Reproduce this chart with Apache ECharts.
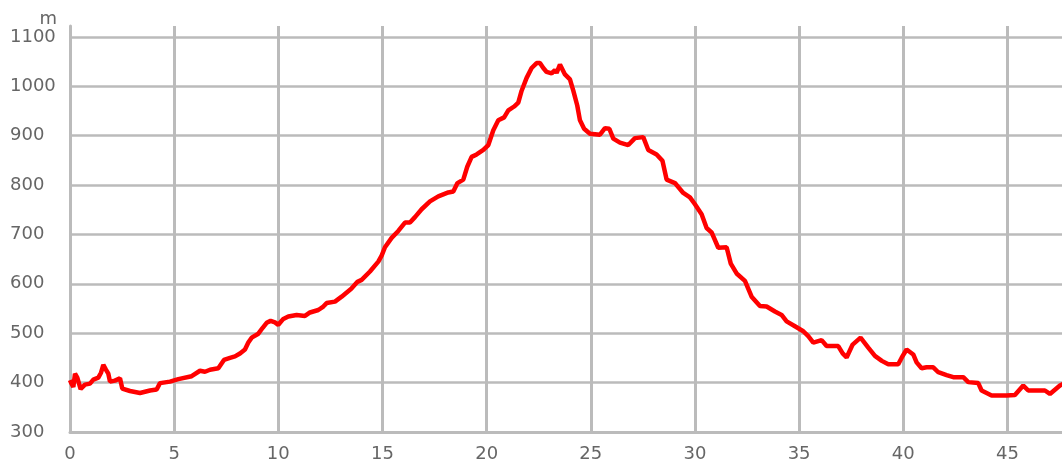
<!DOCTYPE html>
<html>
<head>
<meta charset="utf-8">
<script src="https://cdn.jsdelivr.net/npm/echarts@6/dist/echarts.min.js"></script>
<style>
  html, body { margin: 0; padding: 0; background: #fff; overflow: hidden; }
  #chart { width: 1062px; height: 463px; }
</style>
</head>
<body>
<div id="chart"></div>
<script>
// distance along the route (km) and elevation (m)
const distanceKm = [
  0, 0.05, 0.16, 0.24, 0.35, 0.51, 0.72, 0.96, 1.12, 1.36, 1.49, 1.6, 1.73, 1.84, 1.92,
  2.16, 2.4, 2.51, 2.88, 3.36, 3.84, 4.16, 4.32, 4.8, 5.2, 5.84, 6.24, 6.48, 6.72, 7.12,
  7.39, 7.68, 7.92, 8.16, 8.4, 8.56, 8.72, 9.04, 9.25, 9.44, 9.63, 9.84, 10.0, 10.24, 10.48,
  10.88, 11.28, 11.52, 11.92, 12.16, 12.32, 12.72, 13.04, 13.5, 13.8, 14.0, 14.4, 14.8, 14.96,
  15.12, 15.44, 15.76, 16.08, 16.32, 16.56, 16.88, 17.28, 17.68, 18.16, 18.4, 18.6, 18.88, 19.07,
  19.28, 19.52, 19.84, 20.08, 20.32, 20.56, 20.84, 21.04, 21.32, 21.52, 21.68, 21.92, 22.16, 22.4,
  22.56, 22.72, 22.88, 23.12, 23.28, 23.36, 23.52, 23.76, 24.0, 24.16, 24.35, 24.48, 24.68, 24.96,
  25.44, 25.68, 25.89, 26.08, 26.4, 26.8, 27.12, 27.52, 27.76, 28.16, 28.44, 28.64, 29.04, 29.44,
  29.76, 30.0, 30.32, 30.56, 30.8, 31.12, 31.52, 31.72, 32.0, 32.4, 32.72, 33.12, 33.44, 33.84,
  34.16, 34.4, 34.8, 35.2, 35.44, 35.68, 36.08, 36.32, 36.88, 37.09, 37.28, 37.57, 37.95, 38.32,
  38.64, 38.97, 39.28, 39.76, 39.93, 40.16, 40.48, 40.64, 40.88, 41.12, 41.44, 41.68, 42.08, 42.4,
  42.88, 43.12, 43.6, 43.76, 44.24, 44.96, 45.36, 45.76, 46.0, 46.8, 47.04, 47.52, 47.7
];
const elevationM = [
  405, 400, 391, 418, 410, 387, 396, 398, 406, 410, 420, 436, 426, 418, 402,
  404, 409, 388, 383, 379, 384, 386, 399, 402, 407, 413, 424, 422, 426, 429,
  446, 450, 453, 459, 467, 481, 491, 499, 511, 521, 525, 522, 517, 529, 534,
  537, 535, 542, 547, 554, 561, 564, 574, 590, 604, 608, 625, 645, 657,
  674, 693, 707, 724, 724, 735, 751, 767, 777, 785, 787, 804, 811, 837,
  857, 862, 871, 881, 911, 931, 937, 951, 959, 967, 991, 1017, 1037, 1047,
  1047, 1037, 1029, 1026, 1033, 1027, 1044, 1024, 1014, 991, 961, 931, 914, 904,
  902, 915, 914, 894, 886, 881, 895, 897, 871, 862, 849, 811, 804, 784,
  775, 761, 741, 713, 704, 673, 674, 641, 621, 606, 574, 555, 554, 544,
  537, 524, 514, 504, 494, 481, 486, 474, 474, 459, 451, 477, 491, 471,
  454, 444, 437, 437, 451, 467, 457, 441, 429, 431, 431, 421, 415, 411,
  411, 401, 399, 384, 374, 374, 375, 394, 384, 384, 377, 394, 398
];
// the plot area runs a little above the 1100 line and is cut off past 47.5 km
const yTicks = { min: 300, max: 1122, step: 100 };
const xTicks = { min: 0, max: 47.62, step: 5 };

const chart = echarts.init(document.getElementById("chart"));
const gridColor = "#bbbbbb";
const labelFont = { color: "#666666", fontSize: 18, fontFamily: "DejaVu Sans" };
const onStep = (step) => (v) => (v % step === 0 ? String(v) : "");

chart.setOption({
  animation: false,
  grid: { left: 70, top: 26, bottom: 26, right: 0, containLabel: false },
  xAxis: {
    type: "value",
    min: xTicks.min,
    max: xTicks.max,
    interval: xTicks.step,
    axisLine: { show: true, lineStyle: { color: gridColor, width: 3 } },
    axisTick: { show: false },
    axisLabel: { ...labelFont, margin: 13, showMaxLabel: false, formatter: onStep(xTicks.step) },
    splitLine: { show: true, showMaxLine: false, lineStyle: { color: gridColor, width: 3 } },
  },
  yAxis: {
    type: "value",
    min: yTicks.min,
    max: yTicks.max,
    interval: yTicks.step,
    name: "m",
    nameLocation: "end",
    nameGap: -3,
    nameTextStyle: { ...labelFont, align: "right", padding: [0, 13, 0, 0] },
    axisLine: { show: true, lineStyle: { color: gridColor, width: 3 } },
    axisTick: { show: false },
    axisLabel: { ...labelFont, align: "left", margin: 60, showMaxLabel: false, formatter: onStep(yTicks.step) },
    splitLine: { show: true, showMaxLine: false, lineStyle: { color: gridColor, width: 2.5 } },
  },
  series: [
    {
      type: "line",
      data: distanceKm.map((d, i) => [d, elevationM[i]]),
      showSymbol: false,
      clip: true,
      lineStyle: { color: "#ff0000", width: 4.5 },
    },
  ],
});
</script>
</body>
</html>
